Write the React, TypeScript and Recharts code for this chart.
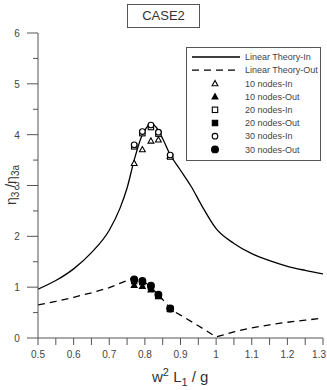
import React from 'react';
import { ComposedChart, Line, Scatter, XAxis, YAxis, Legend } from 'recharts';

// linear theory curves
const theoryInX = [0.5, 0.55, 0.6, 0.65, 0.7, 0.73, 0.75, 0.77, 0.79, 0.81, 0.82, 0.83, 0.85, 0.87, 0.9, 0.93, 0.96, 1.0, 1.05, 1.1, 1.15, 1.2, 1.25, 1.3];
const theoryInY = [0.96, 1.13, 1.36, 1.68, 2.12, 2.55, 2.95, 3.5, 3.95, 4.18, 4.22, 4.16, 3.92, 3.62, 3.3, 2.98, 2.6, 2.15, 1.86, 1.66, 1.52, 1.41, 1.33, 1.26];
const theoryOutX = [0.5, 0.55, 0.6, 0.65, 0.7, 0.75, 0.77, 0.8, 0.84, 0.875, 0.9, 0.95, 1.0, 1.05, 1.1, 1.15, 1.2, 1.25, 1.3];
const theoryOutY = [0.65, 0.72, 0.8, 0.89, 0.99, 1.13, 1.2, 1.1, 0.84, 0.55, 0.45, 0.24, 0.02, 0.12, 0.2, 0.26, 0.31, 0.35, 0.39];

// numerical results
const nodeX = [0.77, 0.793, 0.817, 0.838, 0.871];
const nodes10In = [3.44, 3.71, 3.88, 3.9, 3.58];
const nodes10Out = [1.04, 1.02, 0.95, 0.82, 0.57];
const nodes20In = [3.77, 4.03, 4.15, 4.02, 3.57];
const nodes20Out = [1.12, 1.1, 1.0, 0.83, 0.57];
const nodes30In = [3.8, 4.06, 4.19, 4.05, 3.6];
const nodes30Out = [1.15, 1.12, 1.03, 0.85, 0.58];

const xTicks = Array.from({ length: 17 }, (_, i) => +(0.5 + i * 0.05).toFixed(2));
const yTicks = Array.from({ length: 13 }, (_, i) => i * 0.5);

const toPts = (xs: number[], ys: number[]) => xs.map((x, i) => ({ x, y: ys[i] }));

const FONT = 'Arial, "Liberation Sans", sans-serif';
const AXIS = '#555';
const TXT = '#444';
const DASH = '7 5';

type Marker = 'tri' | 'sq' | 'circ';

function drawMarker(kind: Marker, filled: boolean, cx: number, cy: number) {
  const fill = filled ? '#000' : '#fff';
  const sw = 1.1;
  if (kind === 'tri') {
    const r = 2.9;
    return <polygon points={`${cx},${cy - r} ${cx - r},${cy + r * 0.8} ${cx + r},${cy + r * 0.8}`} fill={fill} stroke="#000" strokeWidth={sw} />;
  }
  if (kind === 'sq') {
    return <rect x={cx - 2.7} y={cy - 2.7} width={5.4} height={5.4} fill={fill} stroke="#000" strokeWidth={sw} />;
  }
  return <circle cx={cx} cy={cy} r={filled ? 3.4 : 2.8} fill={fill} stroke="#000" strokeWidth={sw} />;
}

const shapeFor = (kind: Marker, filled: boolean) => (props: any) => drawMarker(kind, filled, props.cx, props.cy);

function XTick(props: any) {
  const { x, y, payload } = props;
  const v = payload.value as number;
  const major = Math.round(v * 100) % 10 === 0;
  const last = v > 1.29;
  return (
    <g>
      <line x1={x} x2={x} y1={y} y2={y + 7} stroke={AXIS} strokeWidth={1} />
      {major && (
        <text x={last ? 326 : x} y={y + 20} textAnchor={last ? 'end' : 'middle'} fontSize={10} fill={TXT} fontFamily={FONT}>
          {Math.abs(v - 1) < 1e-6 ? '1' : v.toFixed(1)}
        </text>
      )}
    </g>
  );
}

function YTick(props: any) {
  const { x, y, payload } = props;
  const v = payload.value as number;
  const major = Number.isInteger(v);
  return (
    <g>
      <line x1={x} x2={x - (major ? 11 : 5)} y1={y} y2={y} stroke={AXIS} strokeWidth={1} />
      {major && (
        <text x={x - 21} y={y + 4} textAnchor="middle" fontSize={10} fill={TXT} fontFamily={FONT}>
          {v}
        </text>
      )}
    </g>
  );
}

const legendRows: { label: string; line?: 'solid' | 'dash'; marker?: Marker; filled?: boolean }[] = [
  { label: 'Linear Theory-In', line: 'solid' },
  { label: 'Linear Theory-Out', line: 'dash' },
  { label: '10 nodes-In', marker: 'tri', filled: false },
  { label: '10 nodes-Out', marker: 'tri', filled: true },
  { label: '20 nodes-In', marker: 'sq', filled: false },
  { label: '20 nodes-Out', marker: 'sq', filled: true },
  { label: '30 nodes-In', marker: 'circ', filled: false },
  { label: '30 nodes-Out', marker: 'circ', filled: true },
];

function LegendBox() {
  return (
    <svg width={135} height={114} style={{ display: 'block' }}>
      <rect x={0.5} y={0.5} width={134} height={113} fill="#fff" stroke={AXIS} strokeWidth={1} />
      {legendRows.map((r, i) => {
        const cy = 10 + i * 13.2;
        return (
          <g key={r.label}>
            {r.line === 'solid' && <line x1={6} x2={54} y1={cy} y2={cy} stroke="#000" strokeWidth={1.3} />}
            {r.line === 'dash' && <line x1={6} x2={54} y1={cy} y2={cy} stroke="#000" strokeWidth={1.3} strokeDasharray={DASH} />}
            {r.marker && drawMarker(r.marker, !!r.filled, 29, cy)}
            <text x={59} y={cy + 3.2} fontSize={9} fill={TXT} fontFamily={FONT}>{r.label}</text>
          </g>
        );
      })}
    </svg>
  );
}

export default function App() {
  return (
    <div style={{ position: 'absolute', left: 0, top: 0, width: 327, height: 390, background: '#fff' }}>
      <div
        style={{
          position: 'absolute', left: 127, top: 4, width: 73, height: 24, border: `1px solid ${AXIS}`,
          boxSizing: 'border-box', textAlign: 'center', lineHeight: '22px', fontSize: 13, color: '#333', fontFamily: FONT,
        }}
      >
        CASE2
      </div>
      <ComposedChart width={327} height={390} margin={{ top: 33, right: 4, left: 8, bottom: 22 }}>
        <XAxis
          type="number"
          dataKey="x"
          domain={[0.5, 1.3]}
          ticks={xTicks}
          interval={0}
          allowDataOverflow
          height={30}
          stroke={AXIS}
          tickLine={false}
          tickSize={0}
          tickMargin={0}
          tick={<XTick />}
        />
        <YAxis
          type="number"
          dataKey="y"
          domain={[0, 6]}
          ticks={yTicks}
          interval={0}
          allowDataOverflow
          width={30}
          stroke={AXIS}
          tickLine={false}
          tickSize={0}
          tickMargin={0}
          tick={<YTick />}
        />
        <Legend
          layout="vertical"
          align="center"
          verticalAlign="middle"
          wrapperStyle={{ left: 186, top: 47, width: 135, height: 114 }}
          content={() => <LegendBox />}
        />
        <Line data={toPts(theoryInX, theoryInY)} dataKey="y" type="monotone" stroke="#000" strokeWidth={1.3} dot={false} isAnimationActive={false} />
        <Line data={toPts(theoryOutX, theoryOutY)} dataKey="y" type="linear" stroke="#000" strokeWidth={1.3} strokeDasharray={DASH} dot={false} isAnimationActive={false} />
        <Scatter data={toPts(nodeX, nodes10In)} shape={shapeFor('tri', false)} isAnimationActive={false} />
        <Scatter data={toPts(nodeX, nodes10Out)} shape={shapeFor('tri', true)} isAnimationActive={false} />
        <Scatter data={toPts(nodeX, nodes20In)} shape={shapeFor('sq', false)} isAnimationActive={false} />
        <Scatter data={toPts(nodeX, nodes20Out)} shape={shapeFor('sq', true)} isAnimationActive={false} />
        <Scatter data={toPts(nodeX, nodes30In)} shape={shapeFor('circ', false)} isAnimationActive={false} />
        <Scatter data={toPts(nodeX, nodes30Out)} shape={shapeFor('circ', true)} isAnimationActive={false} />
      </ComposedChart>
      <div
        style={{
          position: 'absolute', left: 4, top: 185, transform: 'translate(-50%, -50%) rotate(-90deg)', transformOrigin: 'center',
          marginLeft: 8, whiteSpace: 'nowrap', fontSize: 14, color: '#333', fontFamily: FONT,
        }}
      >
        η<sub style={{ fontSize: 10 }}>3</sub> /η<sub style={{ fontSize: 10 }}>3a</sub>
      </div>
      <div
        style={{
          position: 'absolute', left: 152, top: 366, whiteSpace: 'nowrap', fontSize: 15, color: '#333', fontFamily: FONT,
        }}
      >
        w<sup style={{ fontSize: 11 }}>2</sup> L<sub style={{ fontSize: 11 }}>1</sub> / g
      </div>
    </div>
  );
}
